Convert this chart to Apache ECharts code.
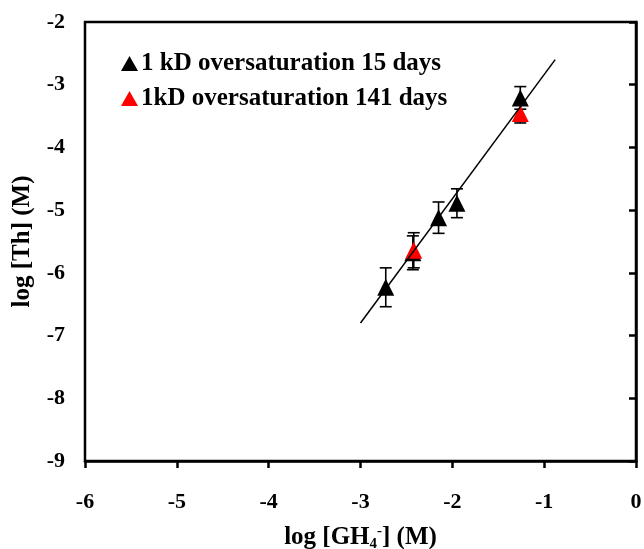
<!DOCTYPE html>
<html>
<head>
<meta charset="utf-8">
<script src="https://cdn.jsdelivr.net/npm/echarts@6/dist/echarts.min.js"></script>
<style>
html,body{margin:0;padding:0;background:#fff;}
#chart{width:644px;height:549px;}
</style>
</head>
<body>
<div id="chart"></div>
<script>
// ---- data ----
var seriesNames = ['1 kD oversaturation 15 days', '1kD oversaturation 141 days'];
var blackX = [-2.725, -2.43, -2.15, -1.95, -1.26];
var blackY = [-6.23, -5.68, -5.12, -4.89, -3.21];
var blackErr = [0.31, 0.27, 0.25, 0.23, 0.18];
var redX = [-2.42, -1.26];
var redY = [-5.64, -3.46];
var redErr = [0.28, 0.15];
var fitX = [-3.0, -0.88];
var fitY = [-6.8, -2.6];
var xTicks = [-6, -5, -4, -3, -2, -1, 0];
var yTicks = [-9, -8, -7, -6, -5, -4, -3, -2];

var FONT = '"Liberation Serif", "Times New Roman", serif';

function zip(a, b, c) {
  return a.map(function (v, i) { return c ? [v, b[i], c[i]] : [v, b[i]]; });
}

function errRender(color) {
  return function (params, api) {
    var x = api.value(0), y = api.value(1), e = api.value(2);
    var top = api.coord([x, y + e]);
    var bot = api.coord([x, y - e]);
    var hw = 6;
    var st = { stroke: color, lineWidth: 1.6 };
    return {
      type: 'group',
      children: [
        { type: 'line', shape: { x1: top[0], y1: top[1], x2: bot[0], y2: bot[1] }, style: st },
        { type: 'line', shape: { x1: top[0] - hw, y1: top[1], x2: top[0] + hw, y2: top[1] }, style: st },
        { type: 'line', shape: { x1: bot[0] - hw, y1: bot[1], x2: bot[0] + hw, y2: bot[1] }, style: st }
      ]
    };
  };
}

var chart = echarts.init(document.getElementById('chart'));
chart.setOption({
  animation: false,
  backgroundColor: '#fff',
  grid: { left: 85, right: 8, top: 22, bottom: 88, containLabel: false, outerBoundsMode: 'none', show: true, borderColor: '#000', borderWidth: 2.5, backgroundColor: 'transparent' },
  legend: {
    orient: 'vertical',
    left: 116,
    top: 46,
    itemWidth: 17,
    itemHeight: 15,
    itemGap: 10,
    data: [
      { name: seriesNames[0], icon: 'triangle' },
      { name: seriesNames[1], icon: 'triangle' }
    ],
    textStyle: { fontFamily: FONT, fontWeight: 'bold', fontSize: 25, lineHeight: 25, color: '#000', padding: [0, 0, 0, -2] }
  },
  xAxis: {
    type: 'value',
    min: xTicks[0], max: xTicks[xTicks.length - 1], interval: 1,
    axisLine: { show: true, lineStyle: { color: '#000', width: 2.5 } },
    axisTick: { show: true, inside: false, length: 7, lineStyle: { color: '#000', width: 2.5 } },
    splitLine: { show: false },
    axisLabel: { margin: 30, fontFamily: FONT, fontWeight: 'bold', fontSize: 22, color: '#000' },
    name: 'log [GH{sub|4}{sup|-}] (M)',
    nameLocation: 'middle',
    nameGap: 63,
    nameTextStyle: {
      fontFamily: FONT, fontWeight: 'bold', fontSize: 25, color: '#000',
      rich: {
        sub: { fontFamily: FONT, fontWeight: 'bold', fontSize: 15, color: '#000', verticalAlign: 'bottom', padding: [13, 0, 0, 0] },
        sup: { fontFamily: FONT, fontWeight: 'bold', fontSize: 15, color: '#000', verticalAlign: 'top', padding: [0, 0, 13, 0] }
      }
    }
  },
  yAxis: {
    type: 'value',
    min: yTicks[0], max: yTicks[yTicks.length - 1], interval: 1,
    axisLine: { show: true, lineStyle: { color: '#000', width: 2.5 } },
    axisTick: { show: true, inside: false, length: 7, lineStyle: { color: '#000', width: 2.5 } },
    splitLine: { show: false },
    axisLabel: { margin: 20, fontFamily: FONT, fontWeight: 'bold', fontSize: 22, color: '#000' },
    name: 'log [Th] (M)',
    nameLocation: 'middle',
    nameGap: 50,
    nameTextStyle: { fontFamily: FONT, fontWeight: 'bold', fontSize: 25, color: '#000' }
  },
  series: [
    {
      type: 'custom', name: 'errBlack', renderItem: errRender('#000'),
      data: zip(blackX, blackY, blackErr), z: 2, encode: { x: 0, y: 1 }, silent: true
    },
    {
      type: 'scatter', name: seriesNames[0], symbol: 'triangle', symbolSize: [17, 17],
      itemStyle: { color: '#000', opacity: 1 }, data: zip(blackX, blackY), z: 3
    },
    {
      type: 'custom', name: 'errRed', renderItem: errRender('#000'),
      data: zip(redX, redY, redErr), z: 4, encode: { x: 0, y: 1 }, silent: true
    },
    {
      type: 'scatter', name: seriesNames[1], symbol: 'triangle', symbolSize: [17, 17],
      itemStyle: { color: '#ff0000', opacity: 1 }, data: zip(redX, redY), z: 5
    },
    {
      type: 'line', name: 'fit', data: zip(fitX, fitY), showSymbol: false, symbol: 'none',
      lineStyle: { color: '#000', width: 1.5 }, z: 6, silent: true
    }
  ]
});
</script>
</body>
</html>
